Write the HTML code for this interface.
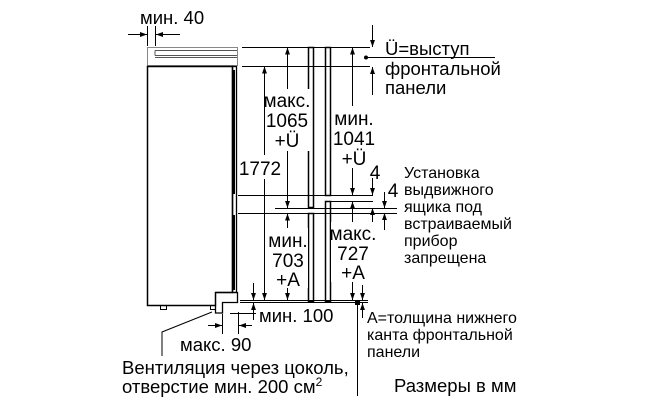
<!DOCTYPE html>
<html><head><meta charset="utf-8"><style>
html,body{margin:0;padding:0;background:#fff;width:650px;height:400px;overflow:hidden}
svg{display:block}
text{font-family:"Liberation Sans",sans-serif;fill:#000}
</style></head><body>
<svg width="650" height="400" viewBox="0 0 650 400" xmlns="http://www.w3.org/2000/svg">
<defs>
<marker id="a" viewBox="0 0 10 10" refX="10" refY="5" markerWidth="7" markerHeight="7" orient="auto-start-reverse"><path d="M0,1.5 L10,5 L0,8.5z" fill="#000"/></marker>
</defs>
<g stroke="#000" fill="none" stroke-width="1">
<rect x="147.5" y="47.5" width="90" height="18" stroke="#888"/>
<path d="M155 50.5H237M155 55.5H237M155 57.5H237M155 50.5V55.5" stroke="#555"/>
<path d="M147.5 66.5H232.5V292.5H215.5V305.5H147.5Z" stroke-width="1.5"/>
<rect x="232.5" y="66.5" width="4" height="226" stroke-width="1.3"/>
<rect x="233" y="70" width="2" height="124" fill="#000" stroke="none"/>
<rect x="233" y="215" width="2" height="75" fill="#000" stroke="none"/>
<path d="M215.5 292.5H237.5V302.5H222.5V313H215.5V305.5" stroke-width="1.3"/>
<rect x="160.5" y="305.5" width="6" height="4"/>
<rect x="210.5" y="305.5" width="5" height="4"/>
<path d="M242 47.5H370M242 66.5H370M238 195.5H373M327 201.5H373M275 208.5H397M238 213.5H397M240 300.5H368M240 302.5H368"/>
<rect x="308.5" y="47.5" width="5" height="160" stroke-width="1.5"/>
<rect x="308.5" y="213.5" width="5" height="88" stroke-width="1.5"/>
<rect x="325.5" y="47.5" width="5" height="148" stroke-width="1.5"/>
<rect x="325.5" y="201.5" width="5" height="100" stroke-width="1.5"/>
<path d="M147.5 26V46M155.5 26V46"/>
<path d="M128 34.5H147" marker-end="url(#a)"/>
<path d="M180 34.5H156" marker-end="url(#a)"/>
<path d="M264.5 66.5V300" marker-start="url(#a)" marker-end="url(#a)"/>
<path d="M287.5 47.5V208" marker-start="url(#a)" marker-end="url(#a)"/>
<path d="M287.5 213.5V300" marker-start="url(#a)" marker-end="url(#a)"/>
<path d="M352.5 47.5V195" marker-start="url(#a)" marker-end="url(#a)"/>
<path d="M352.5 201.5V300" marker-start="url(#a)" marker-end="url(#a)"/>
<path d="M253.5 283V300" marker-end="url(#a)"/>
<path d="M253.5 320V303" marker-end="url(#a)"/>
<path d="M230 313.5H256"/>
<path d="M372.5 25V47" marker-end="url(#a)"/>
<path d="M372.5 95V67" marker-end="url(#a)"/>
<path d="M372.5 178V195" marker-end="url(#a)"/>
<path d="M372.5 225V208" marker-end="url(#a)"/>
<path d="M384.5 192V208" marker-end="url(#a)"/>
<path d="M384.5 230V213" marker-end="url(#a)"/>
<path d="M362.5 285V300" marker-end="url(#a)"/>
<path d="M362.5 318V303" marker-end="url(#a)"/>
<path d="M357.5 303V396"/>
<path d="M366 57.5H495"/>
<path d="M222.5 314V334M238.5 312V334"/>
<path d="M208 325.5H222" marker-end="url(#a)"/>
<path d="M252 325.5H239" marker-end="url(#a)"/>
<path d="M212 312L162 332V356"/>
</g>
<circle cx="366" cy="57.5" r="2" fill="#000"/>
<rect x="355" y="300" width="5" height="5" fill="#000"/>
<g fill="#fff">
<rect x="265" y="89" width="45" height="62"/>
<rect x="238" y="155" width="46" height="24"/>
<rect x="333" y="106" width="42" height="62"/>
<rect x="268" y="228" width="40" height="60"/>
<rect x="331" y="222" width="44" height="60"/>
</g>
<g font-size="19" text-anchor="middle">
<text x="287" y="107">макс.</text>
<text x="287" y="127">1065</text>
<text x="287" y="147">+Ü</text>
<text x="260" y="175">1772</text>
<text x="354" y="125">мин.</text>
<text x="354" y="145">1041</text>
<text x="354" y="165">+Ü</text>
<text x="288" y="247">мин.</text>
<text x="288" y="267">703</text>
<text x="288" y="286">+А</text>
<text x="353" y="240">макс.</text>
<text x="353" y="260">727</text>
<text x="353" y="279">+А</text>
<text x="375" y="179">4</text>
<text x="393" y="197">4</text>
</g>
<g font-size="18.5">
<text x="140" y="24">мин. 40</text>
<text x="385" y="55">Ü=выступ</text>
<text x="385" y="75">фронтальной</text>
<text x="385" y="94">панели</text>
<text x="259" y="322">мин. 100</text>
<text x="180" y="351">макс. 90</text>
<text x="122" y="374">Вентиляция через цоколь,</text>
<text x="122" y="393">отверстие мин. 200 см<tspan font-size="12" dy="-7">2</tspan></text>
<text x="394" y="392">Размеры в мм</text>
</g>
<g font-size="16">
<text x="404" y="178">Установка</text>
<text x="404" y="195">выдвижного</text>
<text x="404" y="212">ящика под</text>
<text x="404" y="229">встраиваемый</text>
<text x="404" y="246">прибор</text>
<text x="404" y="263">запрещена</text>
<text x="367" y="323">А=толщина нижнего</text>
<text x="367" y="340">канта фронтальной</text>
<text x="367" y="357">панели</text>
</g>
</svg>
</body></html>
